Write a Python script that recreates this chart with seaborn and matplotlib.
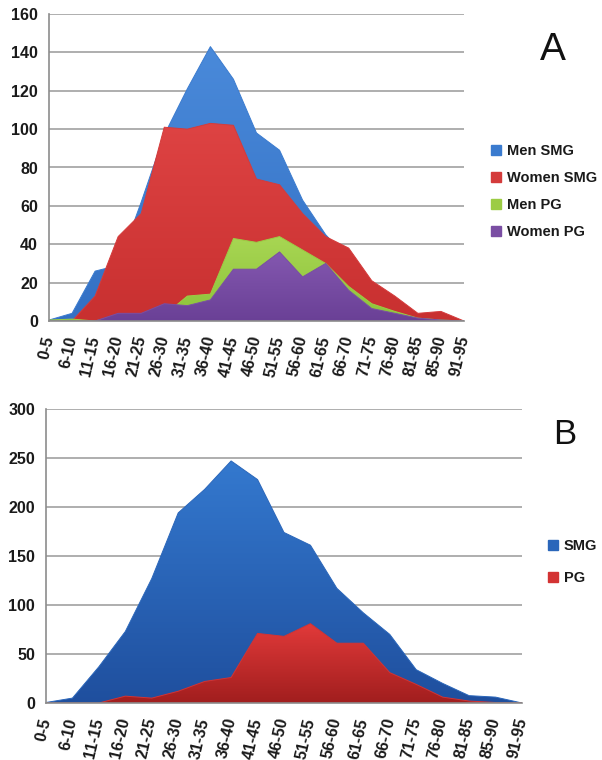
import numpy as np
import pandas as pd
import matplotlib
matplotlib.use("Agg")
import matplotlib.pyplot as plt
import seaborn as sns
from matplotlib.colors import LinearSegmentedColormap
from matplotlib.lines import Line2D

# ---------------- data ----------------
age_groups = ["0-5", "6-10", "11-15", "16-20", "21-25", "26-30", "31-35", "36-40",
              "41-45", "46-50", "51-55", "56-60", "61-65", "66-70", "71-75", "76-80",
              "81-85", "85-90", "91-95"]

# Panel A
men_smg = [0.5, 4, 26, 29, 62, 97, 121, 143, 126, 98, 89, 63, 45, 32, 13, 7, 3, 1, 0]
women_smg = [0, 0, 13, 44, 56, 101, 100, 103, 102, 74, 71, 56, 44, 38, 21, 13, 4, 5, 0]
men_pg = [0.5, 1, 0, 3, 1, 3, 13, 14, 43, 41, 44, 37, 30, 18, 9, 5, 1.5, 0.5, 0]
women_pg = [0, 0, 0, 4, 4, 9, 8, 11, 27, 27, 36, 23, 30, 16, 6.5, 4, 1.5, 0.5, 0]

# Panel B
smg_total = [0.5, 5, 37, 73, 127, 194, 218, 247, 228, 174, 161, 117, 92, 70, 34, 20, 7.5, 6, 0]
pg_total = [0, 0, 0, 7, 5, 12, 22, 26, 71, 68, 81, 61, 61, 31, 19, 6, 2, 0.5, 0]

series_a = ["Men SMG", "Women SMG", "Men PG", "Women PG"]
series_b = ["SMG", "PG"]

dfA = pd.DataFrame({"age": age_groups, "Men SMG": men_smg, "Women SMG": women_smg,
                    "Men PG": men_pg, "Women PG": women_pg})
dfB = pd.DataFrame({"age": age_groups, "SMG": smg_total, "PG": pg_total})
dfA["pos"] = np.arange(len(dfA))
dfB["pos"] = np.arange(len(dfB))

# ---------------- style ----------------
sns.set_style("white")
plt.rcParams["font.family"] = ["Liberation Sans", "DejaVu Sans"]

W, H = 602, 760
fig = plt.figure(figsize=(W / 100, H / 100), dpi=100)
axA = fig.add_axes([49 / W, 1 - 321 / H, (464 - 49) / W, (321 - 14) / H])
axB = fig.add_axes([46 / W, 1 - 703 / H, (522 - 46) / W, (703 - 409) / H])

grid_c = "#a8a8a8"
axis_c = "#8c8c8c"
text_c = "#1a1a1a"


def grad_area(ax, df, col, top, bottom, edge, z):
    x = df["pos"].to_numpy(float)
    y = df[col].to_numpy(float)
    poly = ax.fill_between(x, 0, y, facecolor="none", edgecolor="none", zorder=z)
    cmap = LinearSegmentedColormap.from_list("g_" + col, [bottom, top])
    grad = np.linspace(0, 1, 256).reshape(-1, 1)
    im = ax.imshow(grad, extent=[x.min(), x.max(), 0, max(y.max(), 1)], origin="lower",
                   cmap=cmap, aspect="auto", zorder=z, interpolation="bilinear")
    im.set_clip_path(poly.get_paths()[0], transform=ax.transData)
    sns.lineplot(data=df, x="pos", y=col, ax=ax, color=edge, lw=0.7, zorder=z + 0.1,
                 legend=False)


def style_axis(ax, ymax, ystep):
    ax.set_xlim(0, len(age_groups) - 1)
    ax.set_ylim(0, ymax)
    ax.set_yticks(np.arange(0, ymax + 1, ystep))
    ax.set_xticks(np.arange(len(age_groups)))
    ax.set_xticklabels(age_groups, rotation=77, ha="right", va="center",
                       rotation_mode="anchor", fontsize=11.5, fontweight="bold", color=text_c)
    for lab in ax.get_yticklabels():
        lab.set_fontweight("bold")
        lab.set_fontsize(11.5)
        lab.set_color(text_c)
    ax.yaxis.grid(True, color=grid_c, lw=1.3)
    ax.xaxis.grid(False)
    ax.set_axisbelow(True)
    for s in ["top", "right"]:
        ax.spines[s].set_visible(False)
    for s in ["left", "bottom"]:
        ax.spines[s].set_color(axis_c)
        ax.spines[s].set_linewidth(1.2)
        ax.spines[s].set_zorder(10)
    ax.tick_params(axis="both", direction="out", length=5, width=1, color=axis_c, pad=3)
    ax.tick_params(axis="x", pad=6)
    ax.set_xlabel("")
    ax.set_ylabel("")


# ---------------- panel A ----------------
colsA = {
    "Men SMG": ("#4a8ada", "#3370c4", "#3a7bcf"),
    "Women SMG": ("#de4343", "#c83030", "#d43b3b"),
    "Men PG": ("#a8d653", "#8cc23a", "#9ccc44"),
    "Women PG": ("#8458b0", "#6a4096", "#7a4ea3"),
}
for i, s in enumerate(series_a):
    top, bot, leg = colsA[s]
    grad_area(axA, dfA, s, top, bot, leg, 2 + i)
style_axis(axA, 160, 20)

# ---------------- panel B ----------------
colsB = {
    "SMG": ("#3479cf", "#1f4f9e", "#2a66ba"),
    "PG": ("#e23a3a", "#a11e1e", "#d33333"),
}
for i, s in enumerate(series_b):
    top, bot, leg = colsB[s]
    grad_area(axB, dfB, s, top, bot, leg, 2 + i)
style_axis(axB, 300, 50)

# ---------------- legends & panel letters ----------------
hA = [Line2D([], [], marker="s", ls="", markersize=7, markerfacecolor=colsA[s][2],
             markeredgecolor=colsA[s][2]) for s in series_a]
fig.legend(hA, series_a, loc="center left", bbox_to_anchor=(491 / W, 1 - 191.5 / H),
           frameon=False, prop={"weight": "bold", "size": 10.5}, handlelength=0.7,
           handletextpad=0.4, labelspacing=0.9, borderpad=0, borderaxespad=0,
           labelcolor=text_c)

hB = [Line2D([], [], marker="s", ls="", markersize=7, markerfacecolor=colsB[s][2],
             markeredgecolor=colsB[s][2]) for s in series_b]
fig.legend(hB, series_b, loc="center left", bbox_to_anchor=(548 / W, 1 - 562 / H),
           frameon=False, prop={"weight": "bold", "size": 10.5}, handlelength=0.7,
           handletextpad=0.4, labelspacing=1.2, borderpad=0, borderaxespad=0,
           labelcolor=text_c)

fig.text(553 / W, 1 - 50 / H, "A", ha="center", va="center", fontsize=28, color="#111111")
fig.text(565 / W, 1 - 435 / H, "B", ha="center", va="center", fontsize=25, color="#111111")

fig.savefig("out.png", dpi=100, facecolor="white")
